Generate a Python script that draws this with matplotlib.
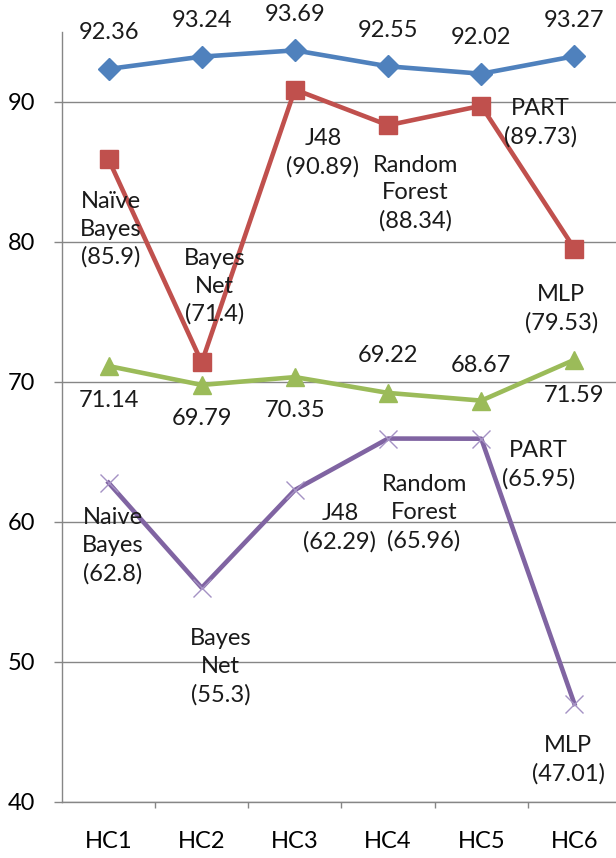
import numpy as np
import matplotlib
matplotlib.use("Agg")
import matplotlib.pyplot as plt
from matplotlib.ticker import FixedLocator, NullFormatter

plt.rcParams['font.family'] = ['Lato', 'DejaVu Sans']

categories = ["HC1", "HC2", "HC3", "HC4", "HC5", "HC6"]
classifiers = ["Naïve\nBayes", "Bayes\nNet", "J48", "Random\nForest", "PART", "MLP"]
classifiers_plain = ["Naive\nBayes", "Bayes\nNet", "J48", "Random\nForest", "PART", "MLP"]

blue_vals = [92.36, 93.24, 93.69, 92.55, 92.02, 93.27]
red_vals = [85.9, 71.4, 90.89, 88.34, 89.73, 79.53]
green_vals = [71.14, 69.79, 70.35, 69.22, 68.67, 71.59]
purple_vals = [62.8, 55.3, 62.29, 65.96, 65.95, 47.01]

W, H = 616, 858
fig = plt.figure(figsize=(W / 100, H / 100), dpi=100)
ax = fig.add_axes([62 / W, 1 - 802 / H, (621 - 62) / W, 770 / H])

x = np.arange(len(categories))
FS = 17
grid_col = "#868686"

ax.set_xlim(-0.5, len(categories) - 0.5)
ax.set_ylim(40, 95)
ax.set_yticks([40, 50, 60, 70, 80, 90])
ax.yaxis.grid(True, color=grid_col, lw=1)
ax.set_axisbelow(True)
for s in ["top", "right"]:
    ax.spines[s].set_visible(False)
for s in ["left", "bottom"]:
    ax.spines[s].set_color(grid_col)
    ax.spines[s].set_linewidth(1)

ax.tick_params(axis="y", length=6, width=1, color=grid_col, pad=13, labelsize=FS)
ax.set_xticks(x)
ax.set_xticklabels(categories)
ax.tick_params(axis="x", which="major", length=0, pad=21, labelsize=FS)
ax.xaxis.set_minor_locator(FixedLocator(np.arange(len(categories)) + 0.5))
ax.xaxis.set_minor_formatter(NullFormatter())
ax.tick_params(axis="x", which="minor", length=4, width=1, color=grid_col)

series = [
    (blue_vals, "#4F81BD", dict(marker="D", ms=11)),
    (red_vals, "#C0504D", dict(marker="s", ms=13)),
    (green_vals, "#9BBB59", dict(marker="^", ms=13)),
    (purple_vals, "#8064A2", dict(marker="x", ms=13, mew=1, mec="#A592C4")),
]
for vals, col, mk in series:
    ax.plot(x, vals, color=col, lw=3.3, solid_joinstyle="round", zorder=3, **mk)

# label offsets in pixels (dx right, dy down)
blue_off = [(0, -36)] * 6
red_off = [(2, 70), (13, -76), (28, 63), (27, 68), (59, 17), (-13, 60)]
green_off = [(0, 34), (0, 34), (0, 33), (0, -37), (0, -35), (0, 36)]
purple_off = [(4, 63), (19, 79), (45, 38), (36, 74), (57, 26), (-6, 56)]


def label(xi, yi, txt, off):
    ax.annotate(txt, (xi, yi), xytext=(off[0], -off[1]), textcoords="offset pixels",
                ha="center", va="center", fontsize=FS, linespacing=1.4,
                color="#1a1a1a", zorder=5, annotation_clip=False)


for i in x:
    label(i, blue_vals[i], f"{blue_vals[i]:g}", blue_off[i])
    label(i, red_vals[i], f"{classifiers[i]}\n({red_vals[i]:g})", red_off[i])
    label(i, green_vals[i], f"{green_vals[i]:g}", green_off[i])
    label(i, purple_vals[i], f"{classifiers_plain[i]}\n({purple_vals[i]:g})", purple_off[i])

fig.savefig("out.png", dpi=100)
